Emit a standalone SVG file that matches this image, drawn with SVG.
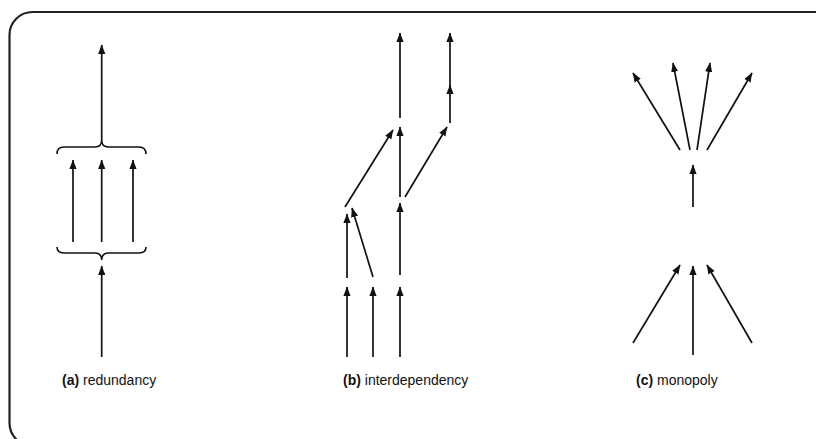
<svg xmlns="http://www.w3.org/2000/svg" width="816" height="439" viewBox="0 0 816 439">
<defs>
<marker id="ah" markerUnits="userSpaceOnUse" markerWidth="10" markerHeight="10" viewBox="0 0 10 10" refX="9" refY="5" orient="auto">
<path d="M0,1.4 L9.5,5 L0,8.6 Z" fill="#111"/>
</marker>
</defs>
<style>
.c{stroke:#111;stroke-width:1.7;fill:none;marker-end:url(#ah)}
.b{stroke:#111;stroke-width:1.6;fill:none}
.frame{stroke:#222;stroke-width:2.2;fill:none}
.lbl{font-family:"Liberation Sans Narrow","Liberation Sans",Arial,sans-serif;font-size:14px;fill:#111}
.lbl tspan.k{font-weight:bold}
</style>
<rect class="frame" x="9.5" y="12" width="840" height="434" rx="23" ry="23"/>
<g id="connectors">
<path class="c" d="M101.7,140 L101.7,45"/>
<path class="c" d="M73,242 L73,160"/>
<path class="c" d="M101.7,242 L101.7,160"/>
<path class="c" d="M133,242 L133,160"/>
<path class="c" d="M101.7,357 L101.7,266"/>
<path class="c" d="M400,118 L400,33"/>
<path class="c" d="M400,197 L400,127"/>
<path class="c" d="M400,275 L400,203"/>
<path class="c" d="M400,357 L400,287"/>
<path class="c" d="M450,123 L450,85"/>
<path class="c" d="M450,88 L450,33"/>
<path class="c" d="M345,207 L393,130"/>
<path class="c" d="M405,197 L447,127"/>
<path class="c" d="M347,278 L347,214"/>
<path class="c" d="M347,357 L347,287"/>
<path class="c" d="M373,357 L373,287"/>
<path class="c" d="M373,277 L352,208"/>
<path class="c" d="M693,207 L693,165"/>
<path class="c" d="M693,355 L693,266"/>
<path class="c" d="M633,343 L680,265"/>
<path class="c" d="M752,343 L707,265"/>
<path class="c" d="M680,150 L633,73"/>
<path class="c" d="M690,150 L673,63"/>
<path class="c" d="M697,150 L710,63"/>
<path class="c" d="M707,150 L752,73"/>
</g>
<g id="brace-top">
<path class="b" d="M57,154 Q57,147 64,147 L95,147 Q101.7,147 101.7,140 Q101.7,147 108.4,147 L139,147 Q146,147 146,154"/>
</g>
<g id="brace-bottom">
<path class="b" d="M57,247 Q57,253 64,253 L95,253 Q101.7,253 101.7,260 Q101.7,253 108.4,253 L139,253 Q146,253 146,247"/>
</g>
<g id="label-a"><text class="lbl" x="62" y="385"><tspan class="k">(a)</tspan> redundancy</text></g>
<g id="label-b"><text class="lbl" x="343" y="385"><tspan class="k">(b)</tspan>  interdependency</text></g>
<g id="label-c"><text class="lbl" x="636" y="385"><tspan class="k">(c)</tspan> monopoly</text></g>
</svg>
